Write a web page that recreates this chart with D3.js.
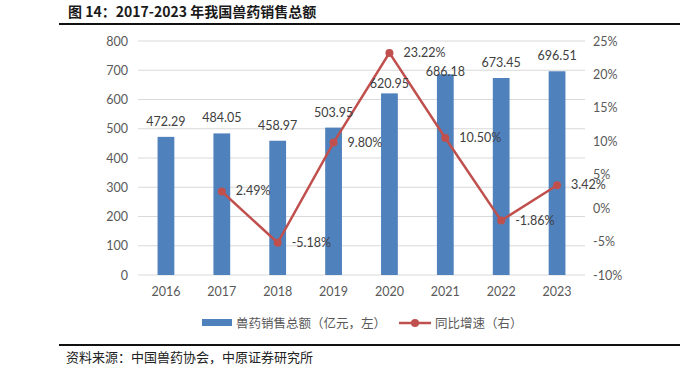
<!DOCTYPE html>
<html>
<head>
<meta charset="utf-8">
<script src="https://cdn.jsdelivr.net/npm/d3@7"></script>
<style>
  body { margin: 0; background: #fff; }
  svg { display: block; }
  .axis text { font-family: Lato, "Open Sans", sans-serif; font-size: 12.5px; fill: #595959; }
  .lbl { font-family: Lato, "Open Sans", sans-serif; font-size: 12.5px; fill: #404040; }
  .cjk { font-family: "Noto Sans CJK SC", sans-serif; }
</style>
</head>
<body>
<div id="chart"></div>
<script>
// Data
const years = ['2016', '2017', '2018', '2019', '2020', '2021', '2022', '2023'];
const sales = [472.29, 484.05, 458.97, 503.95, 620.95, 686.18, 673.45, 696.51];
const growthYears = ['2017', '2018', '2019', '2020', '2021', '2022', '2023'];
const growth = [2.49, -5.18, 9.80, 23.22, 10.50, -1.86, 3.42];
const leftTicks = [0, 100, 200, 300, 400, 500, 600, 700, 800];
const rightTicks = [-10, -5, 0, 5, 10, 15, 20, 25];

const W = 700, H = 372;
const margin = { top: 41, left: 138, right: 115, bottom: 97 };
const width = W - margin.left - margin.right;
const height = H - margin.top - margin.bottom;

const barColor = '#4f81bd';
const lineColor = '#c0504d';

// A couple of bar labels sit lower in the original (moved off the line).
const barLabelShift = { '2020': 6, '2021': 13 };

const svg = d3.select('#chart').append('svg').attr('width', W).attr('height', H);

// Title + rules
svg.append('text').attr('class', 'cjk')
  .attr('x', 68).attr('y', 17)
  .style('font-size', '14px').style('font-weight', 'bold').attr('fill', '#1a1a1a')
  .text('图 14：2017-2023 年我国兽药销售总额');
svg.append('line').attr('x1', 59).attr('x2', 680).attr('y1', 24).attr('y2', 24)
  .attr('stroke', '#111').attr('stroke-width', 2);
svg.append('line').attr('x1', 59).attr('x2', 680).attr('y1', 345).attr('y2', 345)
  .attr('stroke', '#111').attr('stroke-width', 2);
svg.append('text').attr('class', 'cjk')
  .attr('x', 66).attr('y', 362)
  .style('font-size', '13px').attr('fill', '#222')
  .text('资料来源：中国兽药协会，中原证券研究所');

const g = svg.append('g').attr('transform', `translate(${margin.left},${margin.top})`);

const x = d3.scaleBand().domain(years).range([0, width]).paddingInner(0.7).paddingOuter(0.35);
const y = d3.scaleLinear().domain([0, 800]).range([height, 0]);
const y2 = d3.scaleLinear().domain([-10, 25]).range([height, 0]);
const xc = d => x(d) + x.bandwidth() / 2;

// Gridlines
g.selectAll('line.grid').data(leftTicks).enter().append('line')
  .attr('class', 'grid')
  .attr('x1', 0).attr('x2', width)
  .attr('y1', d => y(d)).attr('y2', d => y(d))
  .attr('stroke', '#d9d9d9').attr('stroke-width', 1);

// Axes
const yAxis = d3.axisLeft(y).tickValues(leftTicks).tickSize(0).tickPadding(10);
g.append('g').attr('class', 'axis').call(yAxis).call(s => s.select('.domain').remove());

const y2Axis = d3.axisRight(y2).tickValues(rightTicks).tickSize(0).tickPadding(8)
  .tickFormat(d => d + '%');
g.append('g').attr('class', 'axis').attr('transform', `translate(${width},0)`)
  .call(y2Axis).call(s => s.select('.domain').remove());

const xAxis = d3.axisBottom(x).tickSize(0).tickPadding(12);
g.append('g').attr('class', 'axis').attr('transform', `translate(0,${height})`)
  .call(xAxis).call(s => s.select('.domain').remove());

// Bars
g.selectAll('rect.bar').data(years).enter().append('rect')
  .attr('class', 'bar')
  .attr('x', d => x(d))
  .attr('width', x.bandwidth())
  .attr('y', (d, i) => y(sales[i]))
  .attr('height', (d, i) => height - y(sales[i]))
  .attr('fill', barColor);

// Line (drawn before bar labels so labels sit on top like the original)
const line = d3.line().x(d => xc(d[0])).y(d => y2(d[1]));
const pts = growthYears.map((d, i) => [d, growth[i]]);
g.append('path').datum(pts)
  .attr('d', line).attr('fill', 'none')
  .attr('stroke', lineColor).attr('stroke-width', 2.5);
g.selectAll('circle.pt').data(pts).enter().append('circle')
  .attr('class', 'pt')
  .attr('cx', d => xc(d[0])).attr('cy', d => y2(d[1]))
  .attr('r', 4).attr('fill', lineColor);

g.selectAll('text.barlbl').data(years).enter().append('text')
  .attr('class', 'lbl barlbl')
  .attr('x', d => xc(d))
  .attr('y', (d, i) => y(sales[i]) - 11 + (barLabelShift[d] || 0))
  .attr('text-anchor', 'middle')
  .text((d, i) => sales[i].toFixed(2));

g.selectAll('text.ptlbl').data(pts).enter().append('text')
  .attr('class', 'lbl ptlbl')
  .attr('x', d => xc(d[0]) + 14)
  .attr('y', d => y2(d[1]) + 4)
  .text(d => d[1].toFixed(2) + '%');

// Legend
const lg = svg.append('g').attr('transform', 'translate(0,323)');
lg.append('rect').attr('x', 202).attr('y', -4).attr('width', 30).attr('height', 7).attr('fill', barColor);
lg.append('text').attr('class', 'cjk').attr('x', 236).attr('y', 5)
  .style('font-size', '12.5px').attr('fill', '#595959').text('兽药销售总额（亿元，左）');
lg.append('line').attr('x1', 399).attr('x2', 431).attr('y1', 0).attr('y2', 0)
  .attr('stroke', lineColor).attr('stroke-width', 2.5);
lg.append('circle').attr('cx', 415).attr('cy', 0).attr('r', 4).attr('fill', lineColor);
lg.append('text').attr('class', 'cjk').attr('x', 435).attr('y', 5)
  .style('font-size', '12.5px').attr('fill', '#595959').text('同比增速（右）');
</script>
</body>
</html>
